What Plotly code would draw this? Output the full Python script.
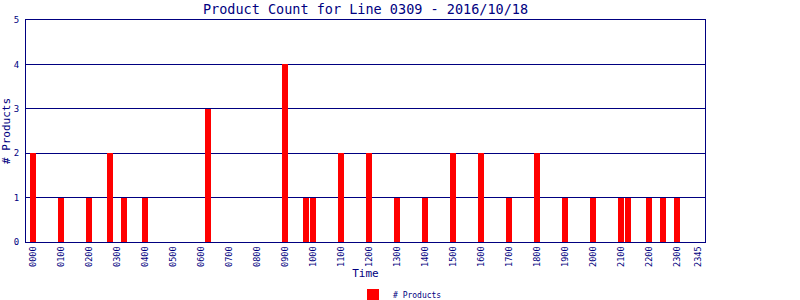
import plotly.graph_objects as go

# 15-minute slot labels (0000 .. 2345)
slot_labels = [f"{h:02d}{m:02d}" for h in range(24) for m in (0, 15, 30, 45)]

# Observed bars: time label -> count
bar_times = ["0000", "0100", "0200", "0245", "0315", "0400", "0615", "0900",
             "0945", "1000", "1100", "1200", "1300", "1400", "1500", "1600",
             "1700", "1800", "1900", "2000", "2100", "2115", "2200", "2230", "2300"]
bar_counts = [2, 1, 1, 2, 1, 1, 3, 4,
              1, 1, 2, 2, 1, 1, 2, 2,
              1, 2, 1, 1, 1, 1, 1, 1, 1]

tick_labels = [f"{h:02d}00" for h in range(24)] + ["2345"]

x_idx = [slot_labels.index(t) for t in bar_times]
tick_idx = [slot_labels.index(t) for t in tick_labels]

NAVY = "#000080"
MONO = "DejaVu Sans Mono"

fig = go.Figure()
fig.add_trace(go.Bar(
    x=x_idx, y=bar_counts, width=0.8, name="# Products",
    marker=dict(color="#ff0000", line=dict(width=0)),
    showlegend=True,
))

fig.update_layout(
    width=800, height=300,
    margin=dict(l=26, r=95, t=20, b=58, autoexpand=False),
    paper_bgcolor="white", plot_bgcolor="white",
    title=dict(text="Product Count for Line 0309 - 2016/10/18",
               x=0.5, xref="paper", xanchor="center",
               y=0.97, yref="container", yanchor="middle",
               font=dict(family=MONO, size=13.5, color=NAVY)),
    showlegend=True,
    legend=dict(orientation="h", xref="container", x=0.5, xanchor="center",
                yref="container", y=0.017, yanchor="middle",
                font=dict(family=MONO, size=8, color=NAVY),
                bgcolor="rgba(0,0,0,0)"),
    bargap=0,
)

fig.update_xaxes(
    automargin=False,
    range=[-1, 96], tickmode="array", tickvals=tick_idx, ticktext=tick_labels,
    tickangle=-90, tickfont=dict(family=MONO, size=8.5, color=NAVY),
    showline=True, linecolor=NAVY, linewidth=1, mirror=True,
    showgrid=False, zeroline=False, ticks="",
    title=dict(text="Time", font=dict(family=MONO, size=11, color=NAVY), standoff=9),
)
fig.update_yaxes(
    automargin=False,
    range=[0, 5], tickmode="array", tickvals=[0, 1, 2, 3, 4, 5],
    tickfont=dict(family=MONO, size=9, color=NAVY),
    showline=True, linecolor=NAVY, linewidth=1, mirror=True,
    showgrid=True, gridcolor=NAVY, gridwidth=1, zeroline=False,
    ticks="", ticklabelstandoff=4,
    title=dict(text="# Products", font=dict(family=MONO, size=11, color=NAVY), standoff=3),
)

fig.write_html("out.html")
